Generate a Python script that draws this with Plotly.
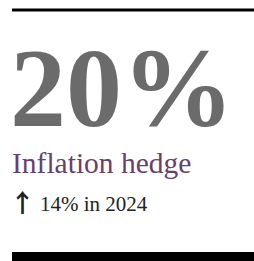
import plotly.graph_objects as go

# ---- data ----
kpi_value = [20]
kpi_suffix = ["%"]
kpi_label = ["Inflation hedge"]
change_pct = [14]
change_year = [2024]

W, H = 254, 261

def py(p):
    return 1 - p / H

def px(p):
    return p / W

fig = go.Figure()

fig.add_annotation(
    x=px(8), y=py(88), xref="paper", yref="paper", xanchor="left", yanchor="middle",
    text=f"<b>{kpi_value[0]}{kpi_suffix[0]}</b>", showarrow=False,
    font=dict(family="Liberation Serif", size=112, color="#6b6b6b"),
)
fig.add_annotation(
    x=px(10), y=py(163), xref="paper", yref="paper", xanchor="left", yanchor="middle",
    text=kpi_label[0], showarrow=False,
    font=dict(family="Liberation Serif", size=29.5, color="#6a3f6e"),
)
fig.add_annotation(
    x=px(8), y=py(201), xref="paper", yref="paper", xanchor="left", yanchor="middle",
    text="<b>↑</b>", showarrow=False,
    font=dict(family="Noto Sans CJK SC", size=25, color="#222222"),
)
fig.add_annotation(
    x=px(38), y=py(204), xref="paper", yref="paper", xanchor="left", yanchor="middle",
    text=f"{change_pct[0]}% in {change_year[0]}", showarrow=False,
    font=dict(family="Liberation Serif", size=21, color="#222222"),
)

fig.add_shape(type="line", xref="paper", yref="paper", x0=px(12), x1=1, y0=py(10), y1=py(10),
              line=dict(color="#000000", width=3))
fig.add_shape(type="rect", xref="paper", yref="paper", x0=px(12), x1=1, y0=py(252), y1=py(261),
              line=dict(width=0), fillcolor="#000000")

fig.update_layout(
    width=W, height=H, margin=dict(l=0, r=0, t=0, b=0),
    paper_bgcolor="white", plot_bgcolor="white",
    xaxis=dict(visible=False), yaxis=dict(visible=False),
    showlegend=False,
)

fig.write_html("out.html", config={"displayModeBar": False},
               post_script="document.body.style.margin='0';")
